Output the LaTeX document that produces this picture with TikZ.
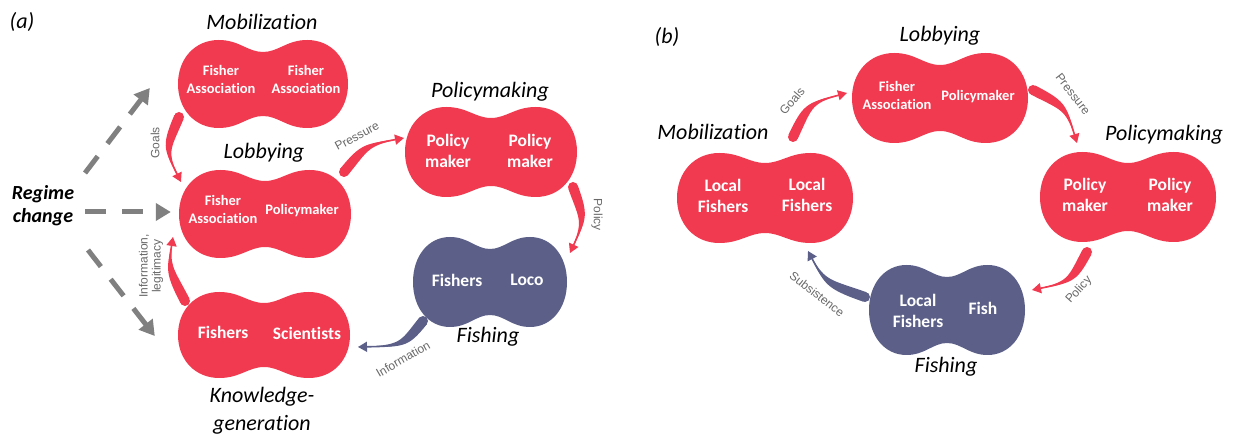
\documentclass[tikz,border=0pt]{standalone}
\usepackage{fontspec}
\setmainfont{Carlito}[Ligatures=CommonOff]
\newfontfamily\arialfont{Liberation Sans}
\usetikzlibrary{arrows.meta,calc}

\definecolor{blobred}{RGB}{241,57,79}
\definecolor{blobblue}{RGB}{92,96,136}
\definecolor{labelgray}{RGB}{105,105,105}
\definecolor{dashgray}{RGB}{128,128,128}

% peanut: colour, node, half width, half height, waist
\newcommand{\peanut}[5]{%
  \fill[#1,shift={(#2.center)}] (0,-#5)
    .. controls (0.18*#3,-#5) and (0.28*#3,-#4) .. (0.52*#3,-#4)
    .. controls (0.8*#3,-#4) and (#3,-0.58*#4) .. (#3,0)
    .. controls (#3,0.58*#4) and (0.8*#3,#4) .. (0.52*#3,#4)
    .. controls (0.28*#3,#4) and (0.18*#3,#5) .. (0,#5)
    .. controls (-0.18*#3,#5) and (-0.28*#3,#4) .. (-0.52*#3,#4)
    .. controls (-0.8*#3,#4) and (-#3,0.58*#4) .. (-#3,0)
    .. controls (-#3,-0.58*#4) and (-0.8*#3,-#4) .. (-0.52*#3,-#4)
    .. controls (-0.28*#3,-#4) and (-0.18*#3,-#5) .. (0,-#5) -- cycle;
}
% swoosh: colour, start, bend, tip
\newcommand{\swoosh}[4]{%
  \coordinate (sw-s) at #2;
  \coordinate (sw-c) at #3;
  \coordinate (sw-e) at #4;
  \fill[#1] ($(sw-s)!5pt!90:(sw-c)$)
    .. controls ($(sw-c)!5pt!-90:(sw-s)$) and ($(sw-c)!1.2pt!-90:(sw-s)$) .. (sw-e)
    .. controls ($(sw-c)!1.2pt!90:(sw-s)$) and ($(sw-c)!5pt!90:(sw-s)$) .. ($(sw-s)!5pt!-90:(sw-c)$) -- cycle;
  \fill[#1] (sw-s) circle (5pt);
  \draw[#1,line width=1.6pt,-{Triangle[length=9pt,width=10pt]}] (sw-s) .. controls (sw-c) .. (sw-e);
}

\begin{document}
\begin{tikzpicture}[x=1pt,y=-1pt,
  blob/.style={minimum width=170pt,minimum height=88pt,inner sep=0pt},
  blobtext/.style={text=white,align=center,font=\fontsize{14.5}{18}\selectfont\bfseries},
  bigtext/.style={text=white,align=center,font=\fontsize{17.5}{21}\selectfont\bfseries},
  phase/.style={font=\fontsize{22}{28}\selectfont\itshape,align=center},
  arrowlabel/.style={text=labelgray,align=center,font=\arialfont\fontsize{12}{13}\selectfont},
  dasharrow/.style={dashgray,line width=5pt,dash pattern=on 21pt off 16pt,
    -{Triangle[length=15pt,width=17pt]}}]

\fill[white] (0,0) rectangle (1235,435);
\useasboundingbox (0,0) rectangle (1235,435);

%% (a)
\node[phase] (tagA) at (22,22) {(a)};

\node[blob] (mob) at (263,84) {};
\node[blob] (lob) at (265,214) {};
\node[blob] (kno) at (264,335) {};
\node[blob] (pol) at (491,152) {};
\node[blob] (fis) at (490,282) {};

\peanut{blobred}{mob}{85}{44}{32}
\peanut{blobred}{lob}{86}{44}{33}
\peanut{blobred}{kno}{86}{43}{32}
\peanut{blobred}{pol}{86}{45}{34}
\peanut{blobblue}{fis}{77}{45}{33}

\node[blobtext] (mobL) at (221,79) {Fisher\\Association};
\node[blobtext] (mobR) at (306,79) {Fisher\\Association};
\node[blobtext] (lobL) at (223,209) {Fisher\\Association};
\node[blobtext] (lobR) at (302,211) {Policymaker};
\node[bigtext] (knoL) at (223,332) {Fishers};
\node[bigtext] (knoR) at (307,333) {Scientists};
\node[bigtext] (polL) at (448,151) {Policy\\maker};
\node[bigtext] (polR) at (530,151) {Policy\\maker};
\node[bigtext] (fisL) at (457,280) {Fishers};
\node[bigtext] (fisR) at (527,280) {Loco};

\node[phase] (mobT) at (262,22) {Mobilization};
\node[phase] (lobT) at (264,153) {Lobbying};
\node[phase] (knoT) at (262,411) {Knowledge-\\generation};
\node[phase] (polT) at (490,92) {Policymaking};
\node[phase] (fisT) at (488,337) {Fishing};

\node[phase,font=\fontsize{20}{23}\selectfont\bfseries\itshape] (rc) at (43,206) {Regime\\change};

\draw[dasharrow] ($(rc)+(42,-33)$) -- ($(mob.west)+(-28,4)$);
\draw[dasharrow] ($(rc)+(42,6)$) -- ($(lob.west)+(-9,-2)$);
\draw[dasharrow] ($(rc)+(45,44)$) -- ($(kno.west)+(-24,1)$);

\swoosh{blobred}{($(mob)+(-84,33)$)}{(165,150)}{($(lob)+(-84,-32)$)}
\swoosh{blobred}{($(lob)+(79,-42)$)}{(366,145)}{($(pol)+(-87,-14)$)}
\swoosh{blobred}{($(pol)+(82,35)$)}{(585,220)}{($(fis)+(80,-29)$)}
\swoosh{blobblue}{($(fis)+(-67,39)$)}{(403,346)}{($(kno)+(94,12)$)}
\swoosh{blobred}{($(kno)+(-79,-34)$)}{(168,268)}{($(lob)+(-92,23)$)}

\node[arrowlabel,rotate=90] (goalsA) at (155,143) {Goals};
\node[arrowlabel,rotate=28] (pressA) at (357,136) {Pressure};
\node[arrowlabel,rotate=-90] (policyA) at (597,215) {Policy};
\node[arrowlabel,rotate=30] (infoA) at (403,359) {Information};
\node[arrowlabel,rotate=90] (legitA) at (151,266) {Information,\\legitimacy};

%% (b)
\node[phase] (tagB) at (667,37) {(b)};

\node[blob] (mob2) at (765,198) {};
\node[blob] (lob2) at (940,98) {};
\node[blob] (pol2) at (1128,197) {};
\node[blob] (fis2) at (947,310) {};

\peanut{blobred}{mob2}{88}{45}{35}
\peanut{blobred}{lob2}{88}{45}{33}
\peanut{blobred}{pol2}{88}{45}{34}
\peanut{blobblue}{fis2}{78}{45}{33}

\node[bigtext] (mob2L) at (723,196) {Local\\Fishers};
\node[bigtext] (mob2R) at (807,195) {Local\\Fishers};
\node[blobtext] (lob2L) at (897,95) {Fisher\\Association};
\node[blobtext] (lob2R) at (978,97) {Policymaker};
\node[bigtext] (pol2L) at (1085,195) {Policy\\maker};
\node[bigtext] (pol2R) at (1170,195) {Policy\\maker};
\node[bigtext] (fis2L) at (918,311) {Local\\Fishers};
\node[bigtext] (fis2R) at (983,308) {Fish};

\node[phase] (mob2T) at (713,132) {Mobilization};
\node[phase] (lob2T) at (940,36) {Lobbying};
\node[phase] (pol2T) at (1164,135) {Policymaking};
\node[phase] (fis2T) at (946,367) {Fishing};

\swoosh{blobred}{($(mob2)+(28,-61)$)}{(809,103)}{($(lob2)+(-93,-5)$)}
\swoosh{blobred}{($(lob2)+(93,-8)$)}{(1066,107)}{($(pol2)+(-51,-54)$)}
\swoosh{blobred}{($(pol2)+(-41,55)$)}{(1071,282)}{($(fis2)+(85,-20)$)}
\swoosh{blobblue}{($(fis2)+(-82,-13)$)}{(825,283)}{($(mob2)+(43,53)$)}

\node[arrowlabel,rotate=50] (goalsB) at (792,101) {Goals};
\node[arrowlabel,rotate=-52] (pressB) at (1073,94) {Pressure};
\node[arrowlabel,rotate=48] (policyB) at (1079,290) {Policy};
\node[arrowlabel,rotate=-38] (subsB) at (817,294) {Subsistence};

\end{tikzpicture}
\end{document}
